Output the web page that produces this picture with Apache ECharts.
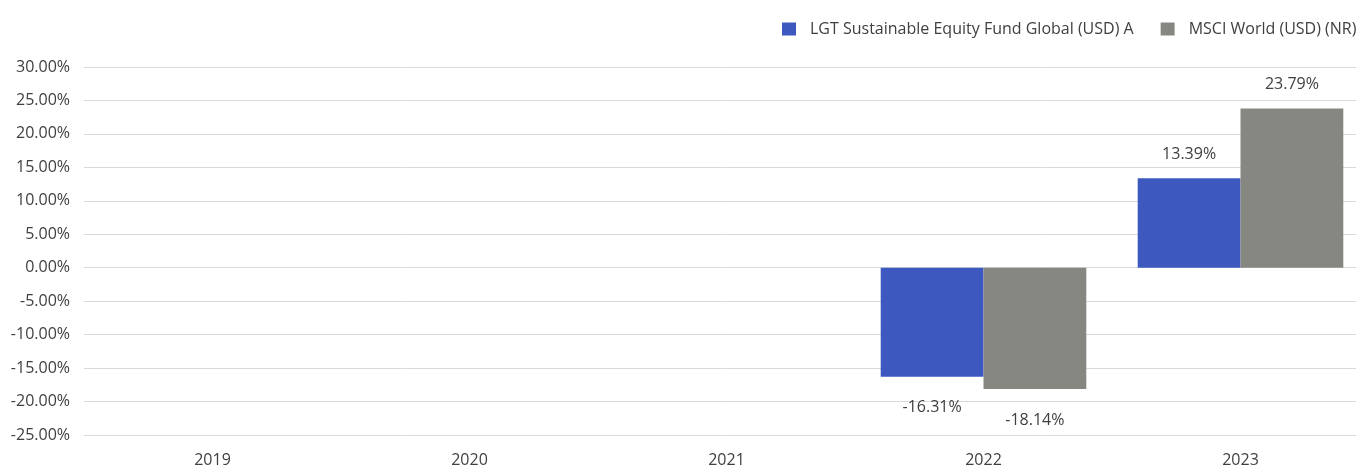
<!DOCTYPE html>
<html><head><meta charset="utf-8">
<script src="https://cdn.jsdelivr.net/npm/echarts@6/dist/echarts.min.js"></script>
<style>html,body{margin:0;padding:0;background:#fff;overflow:hidden;width:1356px;height:468px}#c{width:1369px;height:468px}</style>
</head><body><div id="c"></div>
<script>
const categories = ['2019', '2020', '2021', '2022', '2023'];
const fundName = 'LGT Sustainable Equity Fund Global (USD) A';
const benchName = 'MSCI World (USD) (NR)';
const fundValues = [null, null, null, -16.31, 13.39];
const benchValues = [null, null, null, -18.14, 23.79];

const font = '"Open Sans", "Liberation Sans", sans-serif';
function mk(vals){
  return vals.map(v => v == null ? null : {
    value: v,
    label: v < 0 ? {position: 'bottom', distance: 23} : {position: 'top', distance: 16}
  });
}
const chart = echarts.init(document.getElementById('c'));
chart.setOption({
  animation: false,
  textStyle: {fontFamily: font},
  legend: {
    left: 777, top: 16, width: 1200, itemWidth: 14, itemHeight: 13, itemGap: 27,
    icon: 'rect',
    textStyle: {fontFamily: font, fontSize: 16, color: '#404040', padding: [0,0,0,9]},
    data: [fundName, benchName]
  },
  grid: {left: 84, right: 0, top: 67, bottom: 32, containLabel: false},
  xAxis: {
    type: 'category', data: categories,
    axisLine: {show: false}, axisTick: {show: false},
    axisLabel: {fontFamily: font, fontSize: 16, color: '#404040', margin: 17}
  },
  yAxis: {
    type: 'value', min: -25, max: 30, interval: 5,
    axisLine: {show: false}, axisTick: {show: false},
    splitLine: {lineStyle: {color: '#d9d9d9', width: 1}},
    axisLabel: {fontFamily: font, fontSize: 16, color: '#404040', margin: 14,
      formatter: v => v.toFixed(2) + '%'}
  },
  series: [
    {name: fundName, type: 'bar', data: mk(fundValues), itemStyle: {color: '#3d59bf'},
     barGap: '0%', barCategoryGap: '20%',
     label: {show: true, fontFamily: font, fontSize: 16, color: '#404040', formatter: p => p.value.toFixed(2) + '%'}},
    {name: benchName, type: 'bar', data: mk(benchValues), itemStyle: {color: '#878782'},
     barGap: '0%', barCategoryGap: '20%',
     label: {show: true, fontFamily: font, fontSize: 16, color: '#404040', formatter: p => p.value.toFixed(2) + '%'}}
  ]
});
</script></body></html>
